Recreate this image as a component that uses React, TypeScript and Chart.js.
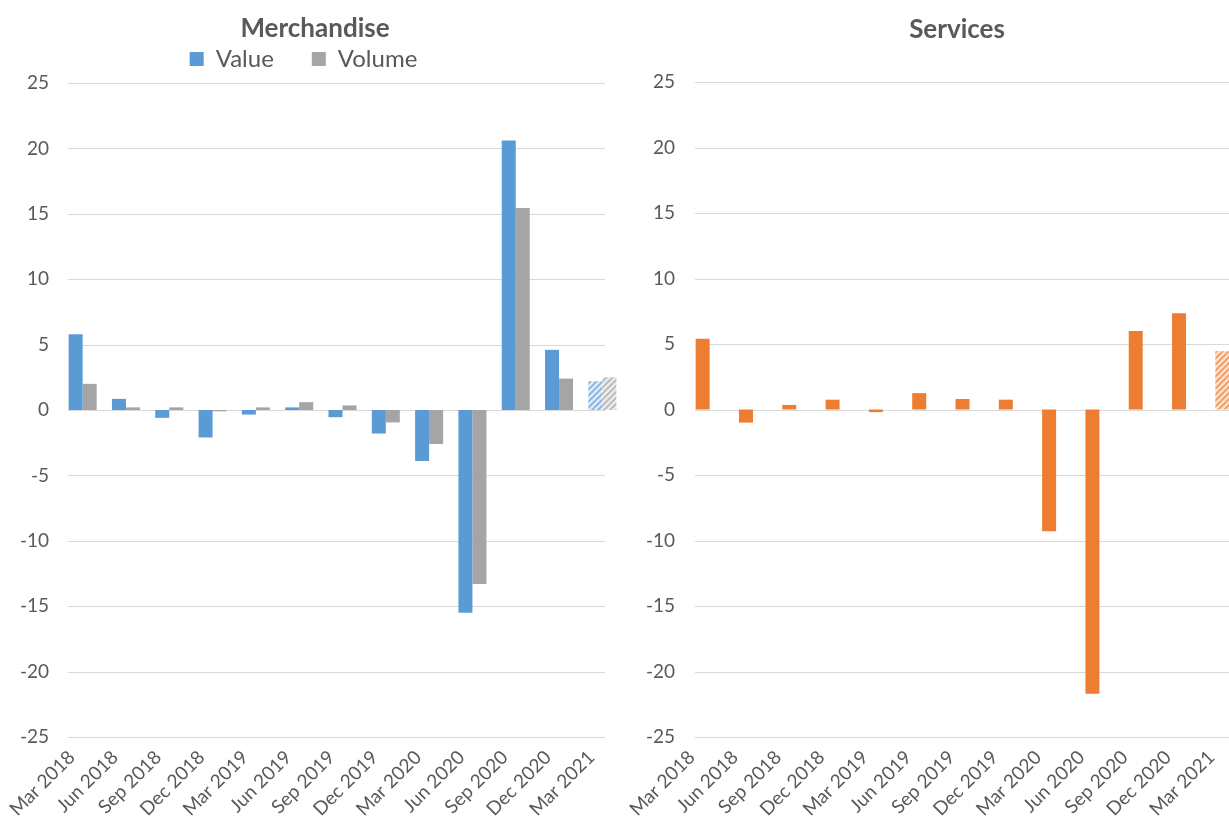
import React, { useEffect, useRef } from "react";
import { Chart, registerables } from "chart.js";

Chart.register(...registerables);

const FONT = "Lato";
const TEXT = "#595959";

const categories = [
  "Mar 2018", "Jun 2018", "Sep 2018", "Dec 2018", "Mar 2019", "Jun 2019", "Sep 2019",
  "Dec 2019", "Mar 2020", "Jun 2020", "Sep 2020", "Dec 2020", "Mar 2021",
];
const merchandiseValue = [5.8, 0.85, -0.6, -2.1, -0.35, 0.2, -0.55, -1.8, -3.9, -15.5, 20.6, 4.6, 2.2];
const merchandiseVolume = [2.0, 0.2, 0.2, -0.1, 0.2, 0.6, 0.35, -0.95, -2.6, -13.3, 15.45, 2.4, 2.5];
const servicesValue = [5.4, -1.0, 0.35, 0.75, -0.2, 1.25, 0.8, 0.75, -9.3, -21.7, 6.0, 7.35, 4.45];
// last quarter is an estimate (drawn hatched)
const estimated = [false, false, false, false, false, false, false, false, false, false, false, false, true];
const yMin = -25;
const yMax = 25;
const yStep = 5;

function makeHatch(fg: string, bg: string) {
  const c = document.createElement("canvas");
  c.width = 6;
  c.height = 6;
  const x = c.getContext("2d")!;
  x.fillStyle = bg;
  x.fillRect(0, 0, 6, 6);
  x.strokeStyle = fg;
  x.lineWidth = 2;
  x.beginPath();
  x.moveTo(-1, 7);
  x.lineTo(7, -1);
  x.moveTo(-1, 1);
  x.lineTo(1, -1);
  x.moveTo(5, 7);
  x.lineTo(7, 5);
  x.stroke();
  return x.createPattern(c, "repeat")!;
}

const hGrid = {
  id: "hGrid",
  beforeDatasetsDraw(chart: any, _a: any, opts: any) {
    const y = chart.scales.y;
    const ctx = chart.ctx;
    const x0 = opts.x0 ?? chart.chartArea.left;
    const x1 = opts.x1 ?? chart.chartArea.right;
    ctx.save();
    ctx.strokeStyle = "#d9d9d9";
    ctx.lineWidth = 1;
    y.ticks.forEach((t: any) => {
      const py = Math.round(y.getPixelForValue(t.value)) + 0.5;
      ctx.beginPath();
      ctx.moveTo(x0, py);
      ctx.lineTo(x1, py);
      ctx.stroke();
    });
    ctx.restore();
  },
};

// nudges the title / legend boxes after layout
const shiftBoxes = {
  id: "shiftBoxes",
  afterLayout(chart: any, _a: any, opts: any) {
    if (!opts) return;
    const move = (b: any, dx: number, dy: number) => {
      if (!b) return;
      b.left += dx;
      b.right += dx;
      b.top += dy;
      b.bottom += dy;
    };
    move(chart.titleBlock, opts.titleDx || 0, opts.titleDy || 0);
    move(chart.legend, opts.legendDx || 0, opts.legendDy || 0);
  },
};

function scales() {
  return {
    x: {
      grid: { display: false, drawTicks: false },
      border: { display: false },
      ticks: {
        color: TEXT,
        font: { family: FONT, size: 19 },
        minRotation: 45,
        maxRotation: 45,
        autoSkip: false,
        padding: 9,
        labelOffset: -11,
      },
      afterFit(s: any) {
        s.height = 79;
      },
    },
    y: {
      min: yMin,
      max: yMax,
      grid: { display: false, drawTicks: false },
      border: { display: false },
      ticks: {
        stepSize: yStep,
        color: TEXT,
        font: { family: FONT, size: 19 },
        padding: 12,
      },
      afterFit(s: any) {
        s.width = 61;
      },
    },
  };
}

function MerchChart() {
  const ref = useRef<HTMLCanvasElement>(null);
  useEffect(() => {
    const blueHatch = makeHatch("#8db6e0", "#e3eef8");
    const grayHatch = makeHatch("#bdbdbd", "#ededed");
    const chart = new Chart(ref.current!, {
      type: "bar",
      data: {
        labels: categories,
        datasets: [
          {
            label: "Value",
            data: merchandiseValue,
            backgroundColor: (c: any) =>
              c.dataIndex !== undefined && estimated[c.dataIndex] ? blueHatch : "#5b9bd5",
            borderWidth: 0,
            categoryPercentage: 0.647,
            barPercentage: 1,
          },
          {
            label: "Volume",
            data: merchandiseVolume,
            backgroundColor: (c: any) =>
              c.dataIndex !== undefined && estimated[c.dataIndex] ? grayHatch : "#a5a5a5",
            borderWidth: 0,
            categoryPercentage: 0.647,
            barPercentage: 1,
          },
        ],
      },
      options: {
        responsive: false,
        animation: false,
        events: [],
        layout: { padding: { left: 0, right: 6, top: 0, bottom: 0 } },
        scales: scales() as any,
        plugins: {
          title: {
            display: true,
            text: "Merchandise",
            color: TEXT,
            font: { family: FONT, size: 26, weight: "bold" },
            padding: { top: 13.4, bottom: -33.6 },
          },
          legend: {
            display: true,
            position: "top",
            labels: {
              color: TEXT,
              font: { family: FONT, size: 24 },
              boxWidth: 14,
              boxHeight: 14,
              padding: 38,
            },
          },
          tooltip: { enabled: false },
          hGrid: { x0: 68, x1: 605 },
          shiftBoxes: { titleDx: 3, legendDx: -8.5, legendDy: -2 },
        } as any,
      },
      plugins: [hGrid, shiftBoxes],
    });
    return () => chart.destroy();
  }, []);
  return <canvas ref={ref} width={630} height={816} style={{ display: "block" }} />;
}

function ServicesChart() {
  const ref = useRef<HTMLCanvasElement>(null);
  useEffect(() => {
    const orangeHatch = makeHatch("#eea06a", "#fbe3d3");
    const chart = new Chart(ref.current!, {
      type: "bar",
      data: {
        labels: categories,
        datasets: [
          {
            label: "Services",
            data: servicesValue,
            backgroundColor: (c: any) =>
              c.dataIndex !== undefined && estimated[c.dataIndex] ? orangeHatch : "#ed7d31",
            borderWidth: 0,
            categoryPercentage: 0.323,
            barPercentage: 1,
          },
        ],
      },
      options: {
        responsive: false,
        animation: false,
        events: [],
        layout: { padding: { left: 0, right: 50, top: 0, bottom: 0 } },
        scales: (() => {
          const s: any = scales();
          s.y.ticks.padding = 6;
          return s;
        })(),
        plugins: {
          title: {
            display: true,
            text: "Services",
            color: TEXT,
            font: { family: FONT, size: 26, weight: "bold" },
            padding: { top: 14.4, bottom: 36.4 },
          },
          legend: { display: false },
          tooltip: { enabled: false },
          hGrid: { x0: 75 },
          shiftBoxes: { titleDx: 25 },
        } as any,
      },
      plugins: [hGrid, shiftBoxes],
    });
    return () => chart.destroy();
  }, []);
  return <canvas ref={ref} width={674} height={816} style={{ display: "block" }} />;
}

export default function App() {
  return (
    <div
      style={{
        position: "fixed",
        left: 0,
        top: 0,
        width: 1229,
        height: 816,
        overflow: "hidden",
        background: "#ffffff",
      }}
    >
      <div style={{ position: "absolute", left: 0, top: 0, width: 630, height: 816 }}>
        <MerchChart />
      </div>
      <div style={{ position: "absolute", left: 620, top: 0, width: 674, height: 816 }}>
        <ServicesChart />
      </div>
    </div>
  );
}
